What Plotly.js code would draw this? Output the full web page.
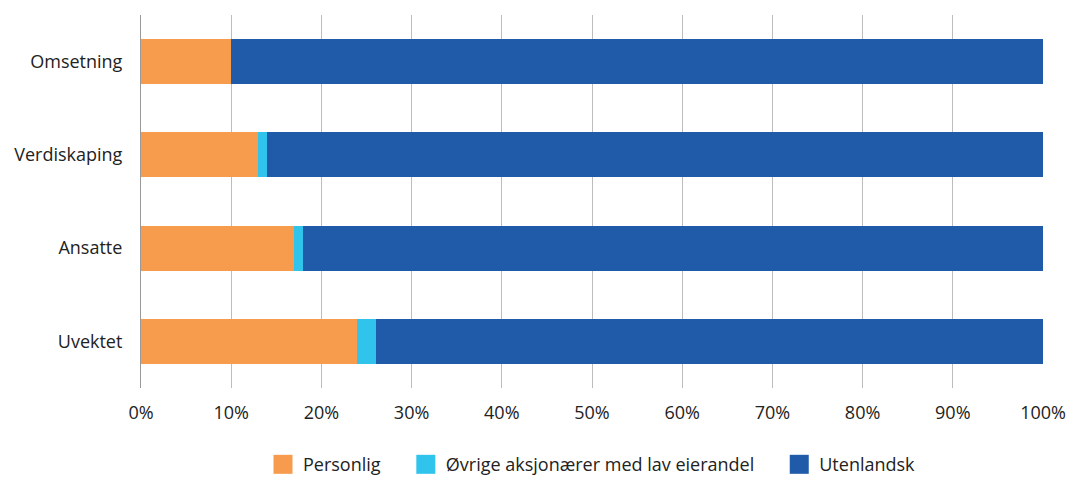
<!DOCTYPE html>
<html>
<head>
<meta charset="utf-8">
<script src="https://cdn.plot.ly/plotly-3.0.1.min.js"></script>
<style>
  html, body { margin: 0; padding: 0; background: #fff; }
  #chart { width: 1067px; height: 478px; }
</style>
</head>
<body>
<div id="chart"></div>
<script>
// Ownership shares by measure (percent)
const categories = ['Omsetning', 'Verdiskaping', 'Ansatte', 'Uvektet'];
const personlig = [10, 13, 17, 24];
const ovrige = [0, 1, 1, 2];
const utenlandsk = [90, 86, 82, 74];
const tickValues = [0, 10, 20, 30, 40, 50, 60, 70, 80, 90, 100];
const tickLabels = ['0%', '10%', '20%', '30%', '40%', '50%', '60%', '70%', '80%', '90%', '100%'];

const font = { family: '"Open Sans", "Noto Sans", sans-serif', size: 18, color: '#222222' };

function series(name, values, color) {
  return {
    type: 'bar', orientation: 'h', name: name,
    x: values, y: categories,
    marker: { color: color, line: { width: 0 } },
    hoverinfo: 'x+name'
  };
}

const data = [
  series('Personlig', personlig, '#f79b4d'),
  series('Øvrige aksjonærer med lav eierandel', ovrige, '#30c3ec'),
  series('Utenlandsk', utenlandsk, '#1f5ba8')
];

const layout = {
  width: 1067, height: 478,
  margin: { l: 141, r: 24, t: 15, b: 90, pad: 0, autoexpand: false },
  barmode: 'stack',
  bargap: 0.52,
  font: font,
  paper_bgcolor: '#ffffff',
  plot_bgcolor: '#ffffff',
  showlegend: true,
  legend: {
    orientation: 'h', x: 0.5, xanchor: 'center',
    yref: 'container', y: 0.028, yanchor: 'middle',
    font: font, traceorder: 'normal'
  },
  xaxis: {
    range: [0, 100], tickvals: tickValues, ticktext: tickLabels,
    showgrid: true, gridcolor: '#bdbdbd', gridwidth: 1,
    zeroline: false, showline: false, ticks: '', ticklen: 0,
    ticklabelstandoff: 12,
    automargin: false, fixedrange: true, tickfont: font
  },
  yaxis: {
    categoryorder: 'array', categoryarray: categories.slice().reverse(),
    showgrid: false, showline: true, linecolor: '#999999', linewidth: 1,
    ticks: '', ticklabelstandoff: 14, automargin: false,
    fixedrange: true, tickfont: font
  }
};

// Larger square legend keys and wider spacing between legend entries
const LEGEND_KEY_HALF = 9.5;
const LEGEND_EXTRA_GAP = 20;

Plotly.newPlot('chart', data, layout, { displayModeBar: false, staticPlot: true }).then(gd => {
  // let the re-spaced entries extend past the legend's own box
  gd.querySelectorAll('.legend [clip-path]').forEach(el => el.removeAttribute('clip-path'));
  const items = gd.querySelectorAll('.legend .traces');
  const shift = -LEGEND_EXTRA_GAP * (items.length - 1) / 2;
  items.forEach((g, i) => {
    const m = /translate\(\s*([-\d.]+)[ ,]+([-\d.]+)\s*\)/.exec(g.getAttribute('transform') || '');
    if (m) {
      const nx = parseFloat(m[1]) + i * LEGEND_EXTRA_GAP + shift;
      g.setAttribute('transform', 'translate(' + nx + ',' + m[2] + ')');
    }
    const h = LEGEND_KEY_HALF;
    g.querySelectorAll('.legendpoints path').forEach(p => {
      p.setAttribute('d', 'M' + h + ',' + h + 'H' + (-h) + 'V' + (-h) + 'H' + h + 'Z');
    });
  });
});
</script>
</body>
</html>
